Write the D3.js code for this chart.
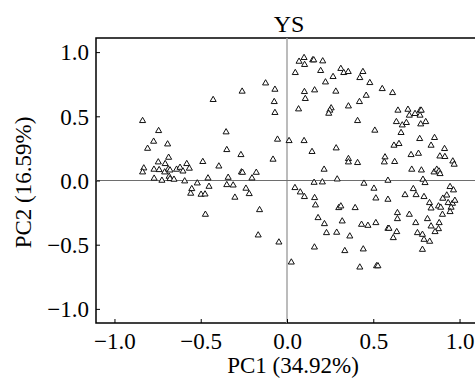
<!DOCTYPE html>
<html>
<head>
<meta charset="utf-8">
<script src="https://cdn.jsdelivr.net/npm/d3@7"></script>
<style>
  html, body { margin: 0; padding: 0; background: #fff; overflow: hidden; }
  text { font-family: "Liberation Serif", "Times New Roman", serif; fill: #000; }
</style>
</head>
<body>
<svg id="chart"></svg>
<script>
// PCA scores (PC1, PC2), same order in both arrays
const pc1 = [
  -0.837, -0.744, -0.773, -0.692, -0.808, -0.686, -0.746, -0.706, -0.830, -0.837,
  -0.771, -0.741, -0.709, -0.688, -0.678, -0.640, -0.620, -0.603, -0.581, -0.566,
  -0.770, -0.725, -0.683, -0.678, -0.655, -0.593, -0.520, -0.552, -0.558, -0.498,
  -0.475, -0.488, -0.473, -0.458, -0.452, -0.428, -0.395, -0.353, -0.349, -0.341,
  -0.349, -0.312, -0.302, -0.267, -0.264, -0.258, -0.260, -0.238, -0.219, -0.203,
  -0.178, -0.159, -0.167, -0.124, -0.070, -0.074, -0.070, -0.055, -0.081, -0.047,
  0.012, 0.025, 0.048, 0.067, 0.070, 0.099, 0.102, 0.149, 0.155, 0.207,
  0.195, 0.101, 0.106, 0.160, 0.099, 0.145, 0.223, 0.267, 0.283, 0.312,
  0.329, 0.355, 0.440, 0.422, 0.480, 0.459, 0.420, 0.356, 0.256, 0.248,
  0.242, 0.409, 0.285, 0.356, 0.356, 0.409, 0.509, 0.552, 0.612, 0.215,
  0.291, 0.157, 0.205, 0.446, 0.504, 0.515, 0.585, 0.585, 0.568, 0.564,
  0.624, 0.643, 0.701, 0.709, 0.742, 0.771, 0.772, 0.778, 0.634, 0.668,
  0.692, 0.775, 0.804, 0.661, 0.769, 0.855, 0.620, 0.649, 0.835, 0.913,
  0.719, 0.762, 0.886, 0.915, 0.961, 0.969, 0.723, 0.779, 0.852, 0.868,
  0.881, 0.887, 0.788, 0.800, 0.046, 0.077, 0.101, 0.160, 0.165, 0.300,
  0.312, 0.395, 0.180, 0.217, 0.320, 0.432, 0.469, 0.515, 0.229, 0.288,
  0.364, 0.159, 0.335, 0.442, 0.422, 0.519, 0.527, 0.945, 0.965, 0.732,
  0.684, 0.748, 0.794, 0.903, 0.926, 0.934, 0.959, 0.973, 0.951, 0.945,
  0.826, 0.835, 0.878, 0.891, 0.901, 0.640, 0.640, 0.709, 0.585, 0.591,
  0.746, 0.814, 0.835, 0.882, 0.878, 0.858, 0.636, 0.616, 0.756, 0.785,
  0.794, 0.827, 0.785
];
const pc2 = [
  0.465, 0.387, 0.304, 0.283, 0.249, 0.179, 0.143, 0.130, 0.096, 0.065,
  0.086, 0.083, 0.065, 0.088, 0.080, 0.086, 0.101, 0.072, 0.130, 0.094,
  0.016, 0.000, 0.031, 0.013, 0.008, -0.005, -0.021, -0.065, -0.101, -0.109,
  -0.107, 0.146, -0.265, 0.018, -0.047, 0.629, 0.111, 0.377, 0.239, 0.023,
  -0.034, -0.037, -0.132, 0.200, 0.065, 0.062, 0.694, -0.062, -0.104, 0.018,
  0.062, -0.229, -0.426, 0.758, 0.709, 0.613, 0.528, 0.320, 0.164, -0.481,
  0.309, -0.637, 0.839, 0.556, 0.927, 0.956, 0.902, 0.938, 0.938, 0.930,
  0.855, 0.691, 0.637, 0.704, 0.309, 0.224, 0.766, 0.808, 0.694, 0.871,
  0.839, 0.847, 0.847, 0.800, 0.761, 0.662, 0.613, 0.579, 0.564, 0.546,
  0.522, 0.465, 0.252, 0.169, 0.143, 0.138, 0.390, 0.714, 0.683, 0.086,
  0.010, -0.016, -0.013, -0.023, -0.062, -0.138, 0.000, -0.148, 0.182, 0.143,
  0.146, 0.546, 0.553, 0.507, 0.520, 0.507, 0.546, 0.546, 0.457, 0.431,
  0.450, 0.439, 0.457, 0.372, 0.325, 0.333, 0.273, 0.286, 0.273, 0.247,
  0.200, 0.210, 0.189, 0.185, 0.150, 0.125, 0.086, 0.080, 0.065, 0.086,
  0.072, 0.052, 0.008, -0.018, -0.057, -0.091, -0.127, -0.135, -0.192, -0.213,
  -0.200, -0.213, -0.291, -0.338, -0.317, -0.343, -0.351, -0.330, -0.408, -0.405,
  -0.434, -0.520, -0.548, -0.535, -0.676, -0.666, -0.666, -0.049, -0.075, -0.065,
  -0.112, -0.112, -0.127, -0.140, -0.115, -0.174, -0.179, -0.156, -0.210, -0.244,
  -0.174, -0.216, -0.200, -0.210, -0.265, -0.252, -0.299, -0.265, -0.374, -0.374,
  -0.330, -0.299, -0.356, -0.330, -0.377, -0.400, -0.400, -0.447, -0.408, -0.421,
  -0.460, -0.475, -0.538
];
const ticks = [-1.0, -0.5, 0.0, 0.5, 1.0];
const chartTitle = "YS";
const xTitle = "PC1 (34.92%)";
const yTitle = "PC2 (16.59%)";

const width = 475, height = 379;
const plot = {left: 96, top: 38, bottom: 323, right: 478};

const svg = d3.select('#chart')
    .attr('width', width)
    .attr('height', height);

const x = d3.scaleLinear().domain([-1.107, 1.107]).range([plot.left, plot.right]);
const y = d3.scaleLinear().domain([-1.11, 1.11]).range([plot.bottom, plot.top]);

const fmt = d => d3.format('.1f')(d).replace('-', '\u2212');

// frame
svg.append('rect')
    .attr('x', plot.left).attr('y', plot.top)
    .attr('width', plot.right - plot.left).attr('height', plot.bottom - plot.top)
    .attr('fill', 'none').attr('stroke', '#000').attr('stroke-width', 1.5);

// zero reference lines
svg.append('line')
    .attr('x1', x(0)).attr('x2', x(0)).attr('y1', plot.top).attr('y2', plot.bottom)
    .attr('stroke', '#a6a6a6').attr('stroke-width', 1.5);
svg.append('line')
    .attr('x1', plot.left).attr('x2', plot.right).attr('y1', y(0)).attr('y2', y(0))
    .attr('stroke', '#6e6e6e').attr('stroke-width', 1.2);

// axes with short inward ticks
const xAxis = d3.axisBottom(x).tickValues(ticks).tickSize(-4).tickPadding(10).tickFormat(fmt);
const yAxis = d3.axisLeft(y).tickValues(ticks).tickSize(-4).tickPadding(8).tickFormat(fmt);

svg.append('g')
    .attr('transform', `translate(0, ${plot.bottom})`)
    .call(xAxis)
    .call(g => g.select('.domain').remove())
    .call(g => g.selectAll('.tick line').attr('stroke', '#000'))
    .call(g => g.selectAll('.tick text')
        .attr('font-family', '"Liberation Serif", serif')
        .attr('font-size', 23).attr('dy', null).attr('y', 26));

svg.append('g')
    .attr('transform', `translate(${plot.left}, 0)`)
    .call(yAxis)
    .call(g => g.select('.domain').remove())
    .call(g => g.selectAll('.tick line').attr('stroke', '#000'))
    .call(g => g.selectAll('.tick text')
        .attr('font-family', '"Liberation Serif", serif')
        .attr('font-size', 23).attr('dy', '0.34em').attr('x', -7));

// points
svg.append('g')
    .selectAll('path')
    .data(pc1.map((v, i) => [v, pc2[i]]))
    .join('path')
    .attr('transform', d => `translate(${x(d[0])}, ${y(d[1])})`)
    .attr('d', d3.symbol(d3.symbolTriangle, 16))
    .attr('fill', '#fff')
    .attr('stroke', '#111')
    .attr('stroke-width', 1);

// titles
svg.append('text')
    .attr('x', 289).attr('y', 32)
    .attr('text-anchor', 'middle')
    .attr('font-size', 24)
    .text(chartTitle);

svg.append('text')
    .attr('x', x(0) + 6).attr('y', 373)
    .attr('text-anchor', 'middle')
    .attr('font-size', 23)
    .text(xTitle);

svg.append('text')
    .attr('transform', `translate(31, ${(plot.top + plot.bottom) / 2 + 2}) rotate(-90)`)
    .attr('text-anchor', 'middle')
    .attr('font-size', 23)
    .text(yTitle);
</script>
</body>
</html>
